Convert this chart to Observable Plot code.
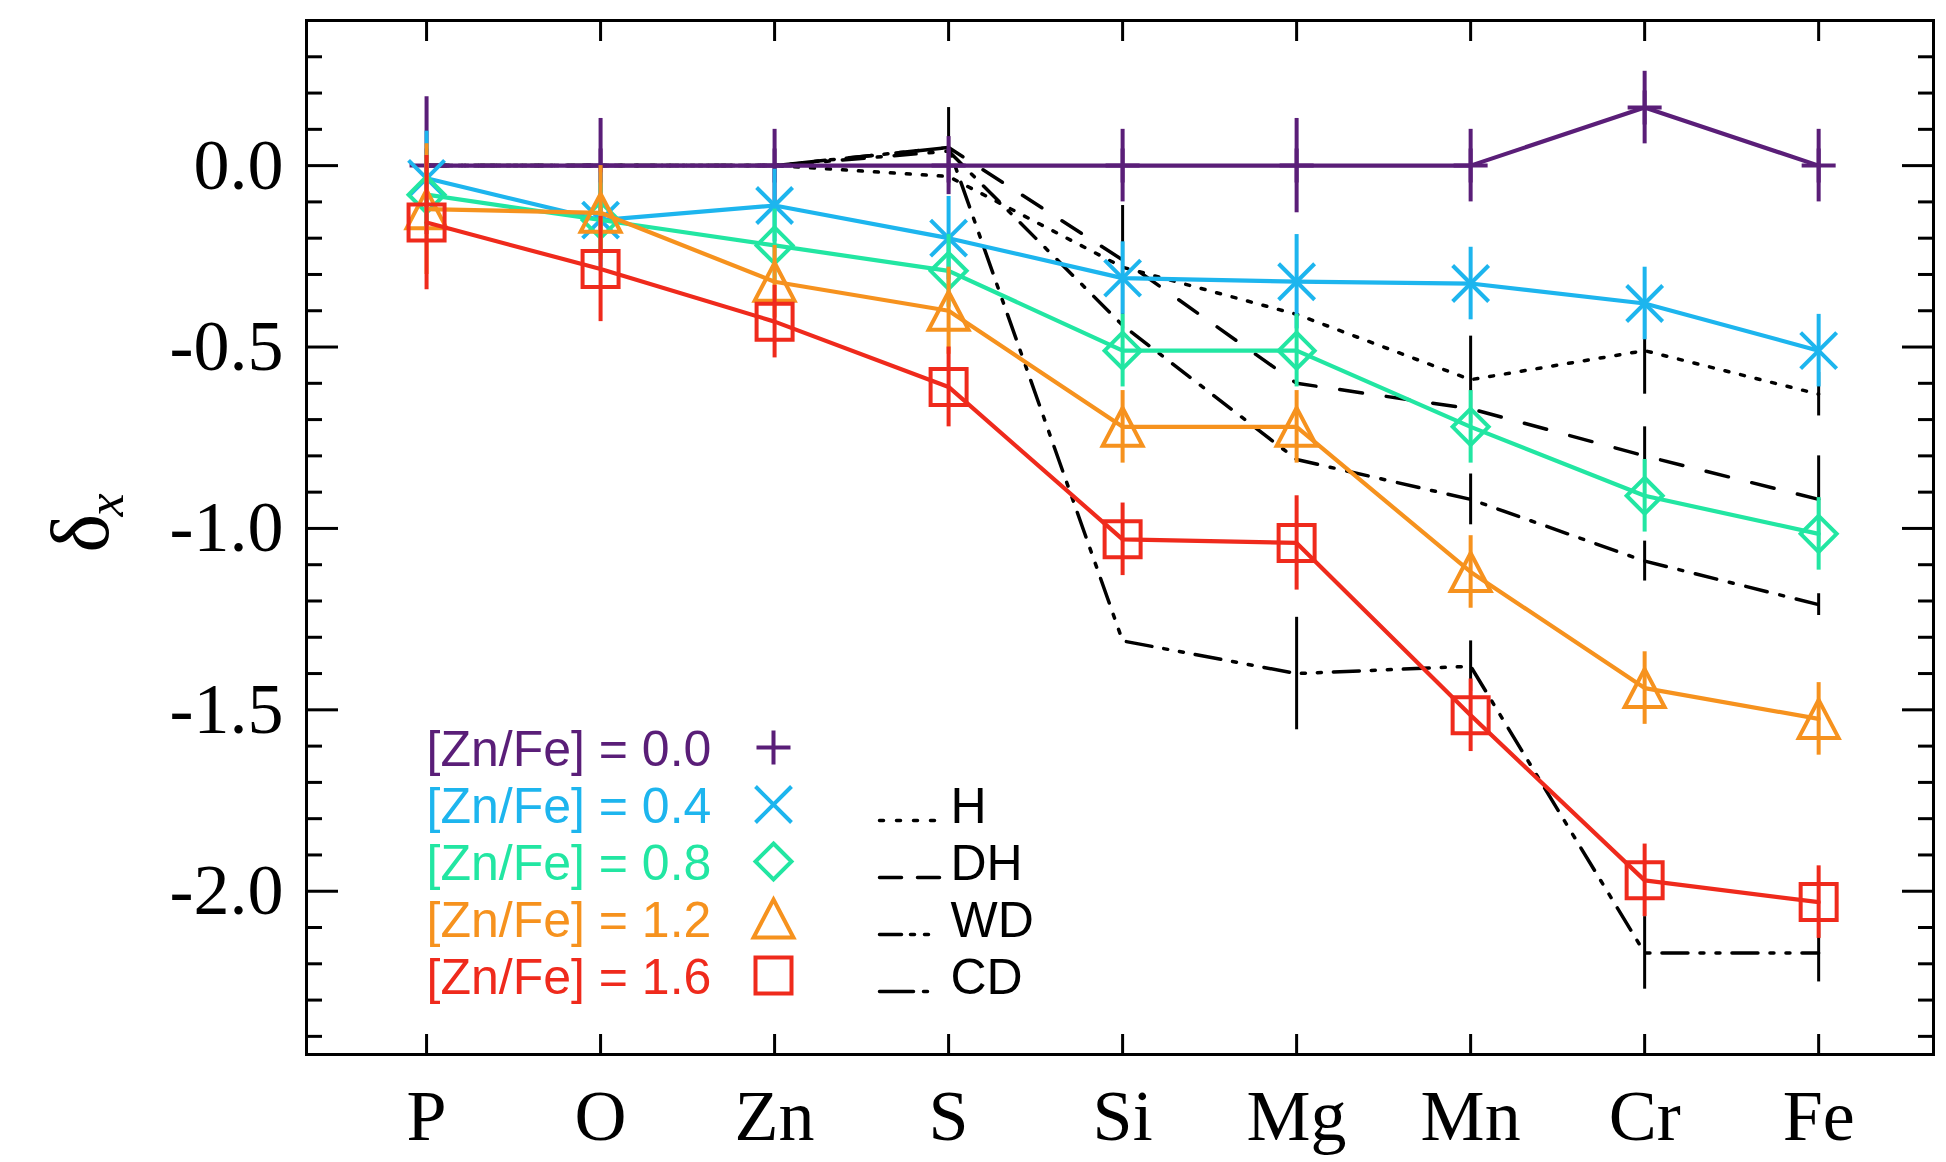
<!DOCTYPE html>
<html><head><meta charset="utf-8">
<script src="https://cdn.jsdelivr.net/npm/d3@7"></script>
<script src="https://cdn.jsdelivr.net/npm/@observablehq/plot@0.6"></script>
<style>html,body{margin:0;padding:0;background:#fff;}</style>
</head><body><div id="chart"></div>
<script>
// ---------- data ----------
const elements = ["P","O","Zn","S","Si","Mg","Mn","Cr","Fe"];

const legendLabels = ["[Zn/Fe] = 0.0","[Zn/Fe] = 0.4","[Zn/Fe] = 0.8","[Zn/Fe] = 1.2","[Zn/Fe] = 1.6"];
const seriesColors = ["#5a1e78","#1db5ee","#22e6a2","#f6921e","#ef2a1c"];

const zn00    = [0, 0, 0, 0, 0, 0, 0, 0.16, 0];
const zn00Err = [0.19, 0.13, 0.10, 0.08, 0.10, 0.13, 0.10, 0.10, 0.10];
const zn04    = [-0.035, -0.15, -0.11, -0.20, -0.31, -0.32, -0.325, -0.38, -0.51];
const zn04Err = [0.13, 0.13, 0.10, 0.115, 0.10, 0.13, 0.10, 0.10, 0.10];
const zn08    = [-0.08, -0.15, -0.22, -0.29, -0.51, -0.51, -0.72, -0.91, -1.015];
const zn08Err = [0.10, 0.10, 0.10, 0.10, 0.10, 0.10, 0.10, 0.10, 0.10];
const zn12    = [-0.12, -0.13, -0.32, -0.40, -0.72, -0.72, -1.12, -1.44, -1.525];
const zn12Err = [0.18, 0.13, 0.10, 0.12, 0.10, 0.10, 0.10, 0.10, 0.10];
const zn16    = [-0.157, -0.285, -0.43, -0.61, -1.03, -1.04, -1.515, -1.97, -2.03];
const zn16Err = [0.185, 0.145, 0.10, 0.11, 0.10, 0.13, 0.10, 0.10, 0.10];

// reference depletion patterns (black)
const modelNames = ["H","DH","WD","CD"];
const modelH     = [0, 0, 0, -0.03, -0.28, -0.41, -0.59, -0.51, -0.63];
const modelHErr  = [0, 0, 0, 0, 0.17, 0, 0.12, 0.12, 0.06];
const modelDH    = [0, 0, 0, 0.05, -0.26, -0.60, -0.67, -0.80, -0.92];
const modelDHErr = [0, 0, 0, 0, 0, 0, 0, 0.08, 0.12];
const modelWD    = [0, 0, 0, 0.05, -1.31, -1.40, -1.38, -2.17, -2.17];
const modelWDErr = [0, 0, 0, 0.11, 0, 0.155, 0.07, 0.10, 0.08];
const modelCD    = [0, 0, 0, 0.04, -0.44, -0.81, -0.92, -1.09, -1.21];
const modelCDErr = [0, 0, 0, 0, 0, 0, 0.07, 0.055, 0.03];

const yMajorTicks = [0, -0.5, -1.0, -1.5, -2.0];
const yMinorTicks = d3.range(-24, 4).filter(k => k % 5 !== 0).map(k => k / 10);

// ---------- helpers ----------
const idx = d3.range(elements.length);
const rows = (vals, errs) => idx.map(i => ({i, v: vals[i], e: errs[i]}));

const rOf = size => Math.sqrt(size / Math.PI);
const symPlus = {draw(c, size){ const s = rOf(size); c.moveTo(-s,0); c.lineTo(s,0); c.moveTo(0,-s); c.lineTo(0,s);} };
const symTimes = {draw(c, size){ const s = rOf(size); c.moveTo(-s,-s); c.lineTo(s,s); c.moveTo(-s,s); c.lineTo(s,-s);} };
const symDiamond = {draw(c, size){ const s = rOf(size); c.moveTo(0,-s); c.lineTo(s,0); c.lineTo(0,s); c.lineTo(-s,0); c.closePath();} };
const symTriangle = {draw(c, size){ const s = rOf(size); c.moveTo(0,-s); c.lineTo(s*1.05,s); c.lineTo(-s*1.05,s); c.closePath();} };
const symSquare = {draw(c, size){ const s = rOf(size); c.moveTo(-s,-s); c.lineTo(s,-s); c.lineTo(s,s); c.lineTo(-s,s); c.closePath();} };
const segShape = {draw(c, l){ c.moveTo(0,0); c.lineTo(0,-l); }};

const series = [
  {vals: zn00, errs: zn00Err, sym: symPlus, r: 17},
  {vals: zn04, errs: zn04Err, sym: symTimes, r: 18},
  {vals: zn08, errs: zn08Err, sym: symDiamond, r: 18},
  {vals: zn12, errs: zn12Err, sym: symTriangle, r: 19},
  {vals: zn16, errs: zn16Err, sym: symSquare, r: 18}
];
const models = [
  {vals: modelH,  errs: modelHErr,  dash: "4,12",            legendDash: "4,13"},
  {vals: modelDH, errs: modelDHErr, dash: "23,24",           legendDash: "22,16"},
  {vals: modelWD, errs: modelWDErr, dash: "26,12,4,12,4,12", legendDash: "22,9,4,10,4,40"},
  {vals: modelCD, errs: modelCDErr, dash: "22,13,4,13",      legendDash: "34,10,4,40"}
];

const marks = [];
// black model lines + their error bars
models.forEach(m => {
  const d = rows(m.vals, m.errs);
  marks.push(Plot.ruleX(d.filter(r => r.e > 0), {x: "i", y1: r => r.v - r.e, y2: r => r.v + r.e, stroke: "black", strokeWidth: 3}));
  marks.push(Plot.line(d, {x: "i", y: "v", stroke: "black", strokeWidth: 3.5, strokeDasharray: m.dash}));
});
// coloured series
series.forEach((s, k) => {
  const d = rows(s.vals, s.errs);
  const col = seriesColors[k];
  marks.push(Plot.ruleX(d, {x: "i", y1: r => r.v - r.e, y2: r => r.v + r.e, stroke: col, strokeWidth: 4}));
  marks.push(Plot.line(d, {x: "i", y: "v", stroke: col, strokeWidth: 4.2}));
  marks.push(Plot.dot(d, {x: "i", y: "v", symbol: s.sym, r: s.r, stroke: col, strokeWidth: 4, fill: "none"}));
});

// legends
const legTop = 729, legStep = 57;
legendLabels.forEach((lab, k) => {
  marks.push(Plot.text([lab], {frameAnchor: "top-left", dx: 120, dy: legTop + k * legStep, text: d => d,
    fill: seriesColors[k], fontSize: 50, fontFamily: "Liberation Sans", textAnchor: "start", lineAnchor: "middle"}));
  marks.push(Plot.dot([0], {frameAnchor: "top-left", dx: 467, dy: legTop - 2 + k * legStep, symbol: series[k].sym,
    r: series[k].r, stroke: seriesColors[k], strokeWidth: 4, fill: "none"}));
});
modelNames.forEach((name, j) => {
  const base = legTop + (j + 1) * legStep;
  marks.push(Plot.vector([0], {frameAnchor: "top-left", dx: 573, dy: base + 14, length: 60, rotate: 90, anchor: "start",
    shape: segShape, stroke: "black", strokeWidth: 3.5, strokeDasharray: models[j].legendDash}));
  marks.push(Plot.text([name], {frameAnchor: "top-left", dx: 644, dy: base, text: d => d,
    fill: "black", fontSize: 50, fontFamily: "Liberation Sans", textAnchor: "start", lineAnchor: "middle"}));
});

// y-axis label δ_x
marks.push(Plot.text(["δ"], {frameAnchor: "left", rotate: -90, dx: -225, dy: 15, text: d => d, fontSize: 82, fontFamily: "Liberation Serif", fill: "black"}));
marks.push(Plot.text(["x"], {frameAnchor: "left", rotate: -90, dx: -200, dy: -21, text: d => d, fontSize: 52, fontStyle: "italic", fontFamily: "Liberation Serif", fill: "black"}));

// axes & frame
marks.push(Plot.axisY(yMajorTicks, {anchor: "left", tickSize: -32, tickPadding: 55, tickFormat: d => d.toFixed(1), fontSize: 72, strokeWidth: 3, color: "black", label: null}));
marks.push(Plot.axisY(yMinorTicks, {anchor: "left", tickSize: -16, strokeWidth: 3, stroke: "black", fill: "none", label: null}));
marks.push(Plot.axisY(yMajorTicks, {anchor: "right", tickSize: -32, strokeWidth: 3, stroke: "black", fill: "none", label: null}));
marks.push(Plot.axisY(yMinorTicks, {anchor: "right", tickSize: -16, strokeWidth: 3, stroke: "black", fill: "none", label: null}));
marks.push(Plot.axisX(idx, {anchor: "bottom", tickSize: -20, tickPadding: 54, tickFormat: i => elements[i], fontSize: 72, strokeWidth: 3, color: "black", label: null}));
marks.push(Plot.axisX(idx, {anchor: "top", tickSize: -20, strokeWidth: 3, stroke: "black", fill: "none", label: null}));
marks.push(Plot.frame({stroke: "black", strokeWidth: 3}));

const plot = Plot.plot({
  width: 1946, height: 1162,
  marginLeft: 306, marginRight: 13, marginTop: 20, marginBottom: 108,
  x: {type: "linear", domain: [-0.69, 8.66]},
  y: {type: "linear", domain: [-2.45, 0.4]},
  style: {background: "white", fontFamily: "Liberation Serif", color: "black", overflow: "visible"},
  marks
});
document.getElementById("chart").appendChild(plot);
</script>
</body></html>
